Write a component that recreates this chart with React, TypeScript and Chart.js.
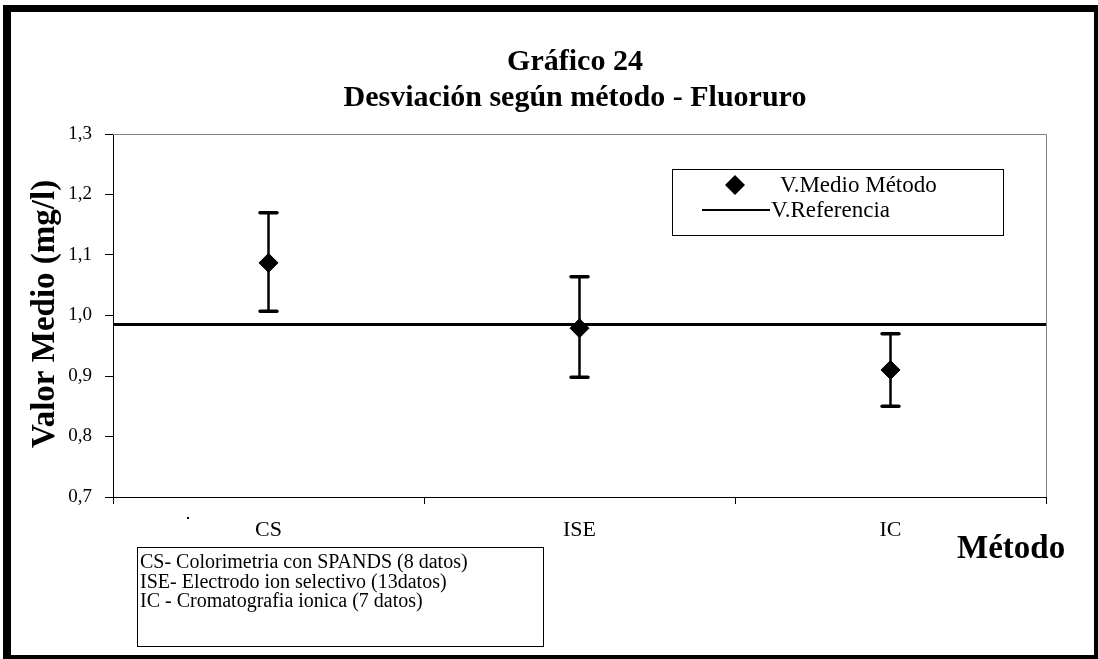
import React, { useEffect, useRef } from 'react';
import { Chart, registerables } from 'chart.js';

Chart.register(...registerables);

const categories = ['CS', 'ISE', 'IC'];
const meanValues = [1.087, 0.979, 0.91];
const lowerValues = [1.007, 0.898, 0.85];
const upperValues = [1.17, 1.064, 0.97];
const referenceValue = 0.985;
const yMin = 0.7;
const yMax = 1.3;
const yStep = 0.1;
const titleLines = ['Gráfico 24', 'Desviación según método - Fluoruro'];
const yAxisTitle = 'Valor Medio (mg/l)';
const xAxisTitle = 'Método';
const legendLabels = ['V.Medio Método', 'V.Referencia'];
const noteLines = [
  'CS- Colorimetria con SPANDS (8 datos)',
  'ISE- Electrodo ion selectivo (13datos)',
  'IC - Cromatografia ionica (7 datos)',
];

const SERIF = '"Liberation Serif", "Times New Roman", serif';

const decorPlugin = {
  id: 'decor',
  beforeDraw(chart: any) {
    const ctx = chart.ctx as CanvasRenderingContext2D;
    ctx.save();
    ctx.fillStyle = '#ffffff';
    ctx.fillRect(0, 0, chart.width, chart.height);
    ctx.restore();
  },
  afterDatasetsDraw(chart: any) {
    const ctx = chart.ctx as CanvasRenderingContext2D;
    const { left, right, top, bottom } = chart.chartArea;
    const ys = chart.scales.y;
    const xs = chart.scales.x;
    ctx.save();
    ctx.strokeStyle = '#808080';
    ctx.lineWidth = 1;
    ctx.beginPath();
    ctx.moveTo(left, top + 0.5);
    ctx.lineTo(right + 0.5, top + 0.5);
    ctx.lineTo(right + 0.5, bottom);
    ctx.stroke();

    const ry = ys.getPixelForValue(referenceValue);
    ctx.strokeStyle = '#000';
    ctx.lineWidth = 3;
    ctx.beginPath();
    ctx.moveTo(left, ry);
    ctx.lineTo(right, ry);
    ctx.stroke();

    categories.forEach((c, i) => {
      const x = xs.getPixelForValue(i);
      const yu = ys.getPixelForValue(upperValues[i]);
      const yl = ys.getPixelForValue(lowerValues[i]);
      ctx.strokeStyle = '#000';
      ctx.lineCap = 'butt';
      ctx.lineWidth = 2.5;
      ctx.beginPath();
      ctx.moveTo(x, yu);
      ctx.lineTo(x, yl);
      ctx.stroke();
      ctx.lineCap = 'round';
      ctx.lineWidth = 3.5;
      ctx.beginPath();
      ctx.moveTo(x - 8.5, yu);
      ctx.lineTo(x + 8.5, yu);
      ctx.moveTo(x - 8.5, yl);
      ctx.lineTo(x + 8.5, yl);
      ctx.stroke();
    });
    ctx.restore();
  },
  afterDraw(chart: any) {
    const ctx = chart.ctx as CanvasRenderingContext2D;
    ctx.save();
    ctx.fillStyle = '#000';
    ctx.fillRect(3, 5, 8, 654);
    ctx.fillRect(3, 5, 1095, 7);
    ctx.fillRect(1094, 5, 4, 654);
    ctx.fillRect(3, 655, 1095, 4);

    ctx.fillStyle = '#000';
    ctx.font = `bold 30px ${SERIF}`;
    ctx.textAlign = 'center';
    ctx.textBaseline = 'middle';
    ctx.fillText(titleLines[0], 575, 62);
    ctx.fillText(titleLines[1], 575, 98);

    ctx.save();
    ctx.translate(45, 314);
    ctx.rotate(-Math.PI / 2);
    ctx.font = `bold 33px ${SERIF}`;
    ctx.fillText(yAxisTitle, 0, 0);
    ctx.restore();

    ctx.font = `bold 33px ${SERIF}`;
    ctx.textAlign = 'left';
    ctx.textBaseline = 'alphabetic';
    ctx.fillText(xAxisTitle, 957, 558);

    ctx.fillStyle = '#fff';
    ctx.fillRect(672, 169, 331, 66);
    ctx.strokeStyle = '#000';
    ctx.lineWidth = 1;
    ctx.strokeRect(672.5, 169.5, 331, 66);
    ctx.fillStyle = '#000';
    ctx.beginPath();
    ctx.moveTo(735, 185 - 10);
    ctx.lineTo(745, 185);
    ctx.lineTo(735, 185 + 10);
    ctx.lineTo(725, 185);
    ctx.closePath();
    ctx.fill();
    ctx.strokeStyle = '#000';
    ctx.lineWidth = 2;
    ctx.beginPath();
    ctx.moveTo(702, 210);
    ctx.lineTo(770, 210);
    ctx.stroke();
    ctx.font = `23px ${SERIF}`;
    ctx.textAlign = 'left';
    ctx.textBaseline = 'middle';
    ctx.fillText(legendLabels[0], 780, 186);
    ctx.fillText(legendLabels[1], 771, 211);

    ctx.strokeStyle = '#000';
    ctx.lineWidth = 1;
    ctx.strokeRect(137.5, 547.5, 406, 99);
    ctx.font = `20px ${SERIF}`;
    ctx.fillStyle = '#000';
    const noteY = [563, 583, 602];
    noteLines.forEach((t, i) => ctx.fillText(t, 140, noteY[i]));

    ctx.fillRect(187, 517, 2, 2);
    ctx.restore();
  },
};

export default function App() {
  const canvasRef = useRef<HTMLCanvasElement | null>(null);

  useEffect(() => {
    if (!canvasRef.current) return;
    const chart = new Chart(canvasRef.current, {
      type: 'line',
      data: {
        labels: categories,
        datasets: [
          {
            label: legendLabels[0],
            data: meanValues,
            showLine: false,
            pointStyle: 'rectRot',
            pointRadius: 9.5,
            pointBackgroundColor: '#000',
            pointBorderColor: '#000',
            pointBorderWidth: 1,
          },
        ],
      },
      options: {
        animation: false,
        responsive: true,
        maintainAspectRatio: false,
        layout: { padding: { left: 0, top: 134, right: 52, bottom: 122 } },
        plugins: {
          legend: { display: false },
          tooltip: { enabled: false },
          title: { display: false },
        },
        scales: {
          x: {
            type: 'category',
            offset: true,
            grid: {
              offset: true,
              drawOnChartArea: false,
              drawTicks: true,
              tickLength: 7,
              color: '#000',
            },
            border: { display: true, color: '#000', width: 1 },
            ticks: {
              color: '#000',
              font: { family: SERIF, size: 22 },
              padding: 13,
              maxRotation: 0,
            },
            afterFit: (s: any) => {
              s.height = 40;
            },
          },
          y: {
            min: yMin,
            max: yMax,
            grid: {
              drawOnChartArea: false,
              drawTicks: true,
              tickLength: 8,
              color: '#000',
            },
            border: { display: true, color: '#000', width: 1 },
            ticks: {
              stepSize: yStep,
              color: '#000',
              font: { family: SERIF, size: 19 },
              padding: 13,
              callback: (v: any) => Number(v).toFixed(1).replace('.', ','),
            },
            afterFit: (s: any) => {
              s.width = 113;
            },
          },
        },
      },
      plugins: [decorPlugin],
    });
    return () => chart.destroy();
  }, []);

  return (
    <div style={{ position: 'fixed', left: 0, top: 0, width: 1098, height: 659 }}>
      <canvas ref={canvasRef} />
    </div>
  );
}
